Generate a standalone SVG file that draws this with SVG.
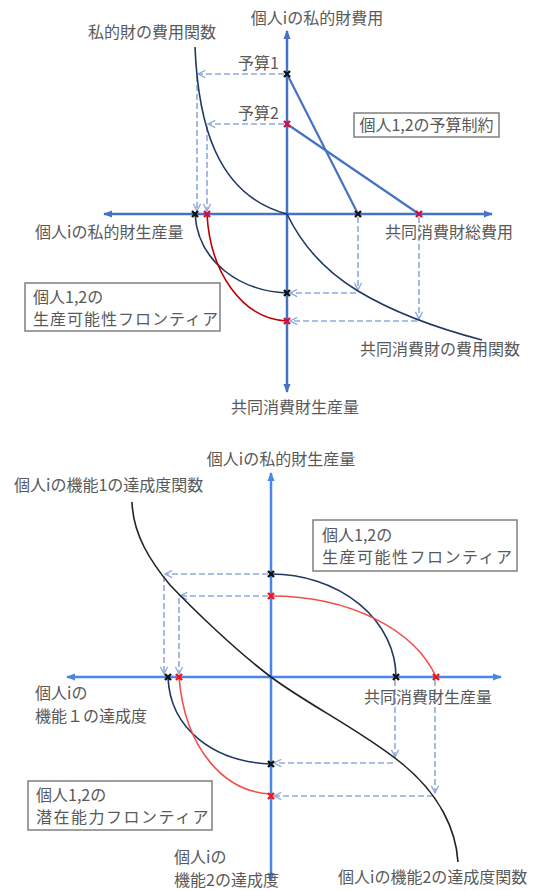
<svg xmlns="http://www.w3.org/2000/svg" width="542" height="891" viewBox="0 0 542 891">
<style>
text{font-family:"Noto Sans CJK JP","Noto Sans",sans-serif;font-size:16px;fill:#595959}
.ax1{stroke:#4472C4;stroke-width:2.5;fill:none}
.ax2{stroke:#4A86E8;stroke-width:2.5;fill:none}
.dash{stroke:#8FAADC;stroke-width:1.6;stroke-dasharray:6 3;fill:none}
.bud{stroke:#4472C4;stroke-width:2.2;fill:none}
.navy{stroke:#1F3864;stroke-width:1.6;fill:none}
.red1{stroke:#C00000;stroke-width:1.6;fill:none}
.red2{stroke:#F0504A;stroke-width:1.6;fill:none}
.blk{stroke:#222;stroke-width:1.6;fill:none}
.box{fill:#fff;stroke:#7F7F7F;stroke-width:1.5}
.xk{stroke:#111;stroke-width:2.4;fill:none}
.xr{stroke:#D0103A;stroke-width:2.4;fill:none}
.xr2{stroke:#FF1010;stroke-width:2.4;fill:none}
</style>
<defs>
<marker id="a1" viewBox="0 0 10 10" refX="9" refY="5" markerWidth="9" markerHeight="9" markerUnits="userSpaceOnUse" orient="auto-start-reverse"><path d="M0,1 L10,5 L0,9 z" fill="#4472C4"/></marker>
<marker id="a2" viewBox="0 0 10 10" refX="9" refY="5" markerWidth="9" markerHeight="9" markerUnits="userSpaceOnUse" orient="auto-start-reverse"><path d="M0,1 L10,5 L0,9 z" fill="#4A86E8"/></marker>
<marker id="ad" viewBox="0 0 10 10" refX="9" refY="5" markerWidth="9" markerHeight="9" markerUnits="userSpaceOnUse" orient="auto"><path d="M1,1 L9,5 L1,9" fill="none" stroke="#8FAADC" stroke-width="1.5"/></marker>
</defs>

<!-- ===== Top diagram ===== -->
<g id="top-axes">
<line class="ax1" x1="287" y1="214" x2="104" y2="214" marker-end="url(#a1)"/>
<line class="ax1" x1="287" y1="214" x2="492" y2="214" marker-end="url(#a1)"/>
<line class="ax1" x1="287" y1="214" x2="287" y2="31" marker-end="url(#a1)"/>
<line class="ax1" x1="287" y1="214" x2="287" y2="392" marker-end="url(#a1)"/>
</g>
<g id="top-connectors">
<line class="dash" x1="284" y1="74" x2="198" y2="74" marker-end="url(#ad)"/>
<line class="dash" x1="197" y1="76" x2="197" y2="211" marker-end="url(#ad)"/>
<line class="dash" x1="284" y1="124" x2="208" y2="124" marker-end="url(#ad)"/>
<line class="dash" x1="207" y1="126" x2="207" y2="211" marker-end="url(#ad)"/>
<line class="dash" x1="358" y1="217" x2="358" y2="290" marker-end="url(#ad)"/>
<line class="dash" x1="356" y1="293" x2="290" y2="293" marker-end="url(#ad)"/>
<line class="dash" x1="419" y1="217" x2="419" y2="319" marker-end="url(#ad)"/>
<line class="dash" x1="417" y1="321" x2="290" y2="321" marker-end="url(#ad)"/>
</g>
<g id="budget-lines">
<line class="bud" x1="287" y1="74" x2="358" y2="214"/>
<line class="bud" x1="287" y1="124" x2="419" y2="214"/>
</g>
<g id="private-cost-curve">
<path class="navy" d="M195,47 C198,120 215,195 287,214"/>
</g>
<g id="public-cost-curve">
<path class="navy" d="M287,214 Q310,262 358,291 T482,340"/>
</g>
<g id="top-frontiers">
<path class="navy" stroke-width="2" d="M195,214 C198,262 240,291 287,293"/>
<path class="red1" stroke-width="2" d="M207,214 C210,272 242,319 287,321"/>
</g>
<g id="top-markers">
<path class="xk" d="M284,71 l6,6 m0,-6 l-6,6"/>
<path class="xr" d="M284,121 l6,6 m0,-6 l-6,6"/>
<path class="xk" d="M192,211 l6,6 m0,-6 l-6,6"/>
<path class="xr" d="M204,211 l6,6 m0,-6 l-6,6"/>
<path class="xk" d="M355,211 l6,6 m0,-6 l-6,6"/>
<path class="xr" d="M416,211 l6,6 m0,-6 l-6,6"/>
<path class="xk" d="M284,290 l6,6 m0,-6 l-6,6"/>
<path class="xr" d="M284,318 l6,6 m0,-6 l-6,6"/>
</g>
<g id="top-labels">
<text x="317" y="24" text-anchor="middle">個人iの私的財費用</text>
<text x="152" y="38" text-anchor="middle">私的財の費用関数</text>
<text x="279" y="69" text-anchor="end">予算1</text>
<text x="279" y="119" text-anchor="end">予算2</text>
<text x="35" y="238">個人iの私的財生産量</text>
<text x="385" y="238">共同消費財総費用</text>
<text x="440" y="355" text-anchor="middle">共同消費財の費用関数</text>
<text x="295" y="413" text-anchor="middle">共同消費財生産量</text>
</g>
<g id="box-budget">
<rect class="box" x="354" y="113" width="145" height="24"/>
<text x="426.5" y="131" text-anchor="middle">個人1,2の予算制約</text>
</g>
<g id="box-ppf-top">
<rect class="box" x="25" y="283" width="195" height="48"/>
<text x="33" y="303">個人1,2の</text>
<text x="33" y="325" letter-spacing="1">生産可能性フロンティア</text>
</g>

<!-- ===== Bottom diagram ===== -->
<g id="bottom-axes">
<line class="ax2" x1="271" y1="677" x2="67" y2="677" marker-end="url(#a2)"/>
<line class="ax2" x1="271" y1="677" x2="501" y2="677" marker-end="url(#a2)"/>
<line class="ax2" x1="271" y1="677" x2="271" y2="473" marker-end="url(#a2)"/>
<line class="ax2" x1="271" y1="677" x2="271" y2="881" marker-end="url(#a2)"/>
</g>
<g id="bottom-connectors">
<line class="dash" x1="268" y1="574" x2="165" y2="574" marker-end="url(#ad)"/>
<line class="dash" x1="164" y1="576" x2="164" y2="674" marker-end="url(#ad)"/>
<line class="dash" x1="268" y1="596" x2="180" y2="596" marker-end="url(#ad)"/>
<line class="dash" x1="179" y1="598" x2="179" y2="674" marker-end="url(#ad)"/>
<line class="dash" x1="395" y1="680" x2="395" y2="757" marker-end="url(#ad)"/>
<line class="dash" x1="393" y1="763" x2="274" y2="763" marker-end="url(#ad)"/>
<line class="dash" x1="435" y1="680" x2="435" y2="793" marker-end="url(#ad)"/>
<line class="dash" x1="433" y1="796" x2="274" y2="796" marker-end="url(#ad)"/>
</g>
<g id="achievement-curve">
<path class="blk" d="M132,502 C133,535 151,562 170,585 C192,608 235,650 271,677 C307,704 360,730 400,762 C440,794 456,830 458,862"/>
</g>
<g id="bottom-ppf">
<path class="navy" d="M271,574 A125,103 0 0 1 396,677"/>
<path class="red2" d="M271,596 C350,596 415,630 436,677"/>
</g>
<g id="capability-frontier">
<path class="navy" d="M168,677 C170,730 215,762 271,764"/>
<path class="red2" d="M179,677 C185,750 225,792 271,794"/>
</g>
<g id="bottom-markers">
<path class="xk" d="M268,571 l6,6 m0,-6 l-6,6"/>
<path class="xr2" d="M268,593 l6,6 m0,-6 l-6,6"/>
<path class="xk" d="M165,674 l6,6 m0,-6 l-6,6"/>
<path class="xr2" d="M176,674 l6,6 m0,-6 l-6,6"/>
<path class="xk" d="M393,674 l6,6 m0,-6 l-6,6"/>
<path class="xr2" d="M433,674 l6,6 m0,-6 l-6,6"/>
<path class="xk" d="M268,761 l6,6 m0,-6 l-6,6"/>
<path class="xr2" d="M268,793 l6,6 m0,-6 l-6,6"/>
</g>
<g id="bottom-labels">
<text x="281" y="465" text-anchor="middle">個人iの私的財生産量</text>
<text x="14" y="491">個人iの機能1の達成度関数</text>
<text x="364" y="703">共同消費財生産量</text>
<text x="35" y="699">個人iの</text>
<text x="35" y="722">機能１の達成度</text>
<text x="174" y="863">個人iの</text>
<text x="174" y="886">機能2の達成度</text>
<text x="338" y="883">個人iの機能2の達成度関数</text>
</g>
<g id="box-ppf-bottom">
<rect class="box" x="313" y="520" width="204" height="51"/>
<text x="322" y="541">個人1,2の</text>
<text x="322" y="563" letter-spacing="1.5">生産可能性フロンティア</text>
</g>
<g id="box-capability">
<rect class="box" x="28" y="781" width="184" height="49"/>
<text x="36" y="801">個人1,2の</text>
<text x="36" y="823" letter-spacing="1.5">潜在能力フロンティア</text>
</g>
</svg>
